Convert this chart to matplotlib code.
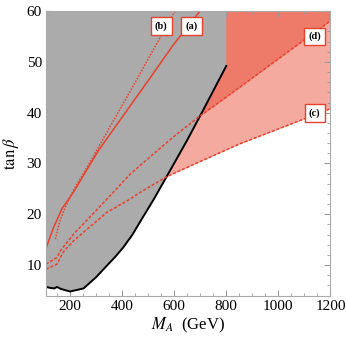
import matplotlib
matplotlib.use("Agg")
import matplotlib.pyplot as plt
from matplotlib.ticker import MultipleLocator

plt.rcParams['font.family'] = ['Liberation Serif', 'DejaVu Serif']
plt.rcParams['mathtext.fontset'] = 'stix'

# excluded (gray) region boundary
bound_M = [108, 125, 140, 150, 165, 200, 252, 300, 342, 375, 405, 440, 469, 520, 571, 650, 700, 750, 800]
bound_t = [5.7, 5.5, 5.4, 5.7, 5.3, 4.8, 5.4, 7.6, 9.9, 11.7, 13.5, 16.0, 18.5, 22.8, 27.4, 34.6, 39.4, 44.3, 49.2]

# curve (a), solid
a_M = [108, 137, 169, 214, 265, 310, 400, 500, 596, 699]
a_t = [13.3, 17.4, 21.1, 24.4, 28.8, 32.6, 39.1, 46.3, 53.3, 60.0]

# curve (b), dotted
b_M = [144, 160, 182, 214, 265, 350, 444, 520, 603]
b_t = [15.1, 18.5, 21.4, 24.8, 29.2, 36.9, 45.4, 52.4, 60.0]

# curve (c), dashed
c_M = [108, 150, 175, 214, 342, 431, 469, 571, 700, 853, 1000, 1200]
c_t = [9.2, 10.2, 12.6, 14.8, 20.4, 23.0, 24.3, 27.4, 30.4, 33.9, 36.8, 40.8]

# curve (d), dashed
d_M = [108, 150, 163, 214, 342, 431, 469, 596, 700, 782, 1000, 1200]
d_t = [10.2, 11.5, 12.8, 16.1, 23.0, 27.9, 29.6, 35.2, 39.4, 42.4, 50.6, 58.1]

labels = ['(a)', '(b)', '(c)', '(d)']
label_M = [667, 550, 1140, 1140]
label_t = [57, 57, 39.9, 55]

red = '#E8412C'

fig = plt.figure(figsize=(3.46, 3.37), dpi=100)
ax = fig.add_axes([0.133, 0.123, 0.822, 0.844])

# shaded regions
ax.fill_between(c_M, c_t, 60, color='#F5AAA0', lw=0, zorder=1)
ax.fill_between(d_M, d_t, 60, color='#EE7A6A', lw=0, zorder=1.1)

# gray excluded region
gx = bound_M + [800, bound_M[0]]
gy = bound_t + [60, 60]
ax.fill(gx, gy, color='#ABABAB', lw=0, zorder=2)
ax.plot(bound_M, bound_t, color='black', lw=1.4, zorder=3)

ax.plot(a_M, a_t, color=red, lw=1.1, zorder=4)
ax.plot(b_M, b_t, color=red, lw=1.1, ls=(0, (1, 1)), zorder=4)
ax.plot(c_M, c_t, color=red, lw=1.1, ls=(0, (2, 1.2)), zorder=4)
ax.plot(d_M, d_t, color=red, lw=1.1, ls=(0, (2, 1.2)), zorder=4)

for lab, m, t in zip(labels, label_M, label_t):
    ax.text(m, t, lab, fontsize=7.5, fontweight='bold', ha='center', va='center', zorder=6,
            bbox=dict(boxstyle='square,pad=0.4', fc='white', ec=red, lw=1.0))

ax.set_xlim(108, 1200)
ax.set_ylim(4, 60)
ax.xaxis.set_major_locator(MultipleLocator(200))
ax.xaxis.set_minor_locator(MultipleLocator(50))
ax.yaxis.set_major_locator(MultipleLocator(10))
ax.yaxis.set_minor_locator(MultipleLocator(2))
ax.tick_params(which='both', direction='in', top=True, right=True, color='#999999',
               labelsize=11, pad=3)
ax.tick_params(which='major', length=4)
ax.tick_params(which='minor', length=2)
for s in ax.spines.values():
    s.set_color('#AAAAAA')
    s.set_zorder(7)

ax.set_xlabel(r'$M_A$  (GeV)', fontsize=12, labelpad=2)
ax.set_ylabel(r'$\tan\beta$', fontsize=12, labelpad=4)

fig.savefig('out.png', dpi=100)
